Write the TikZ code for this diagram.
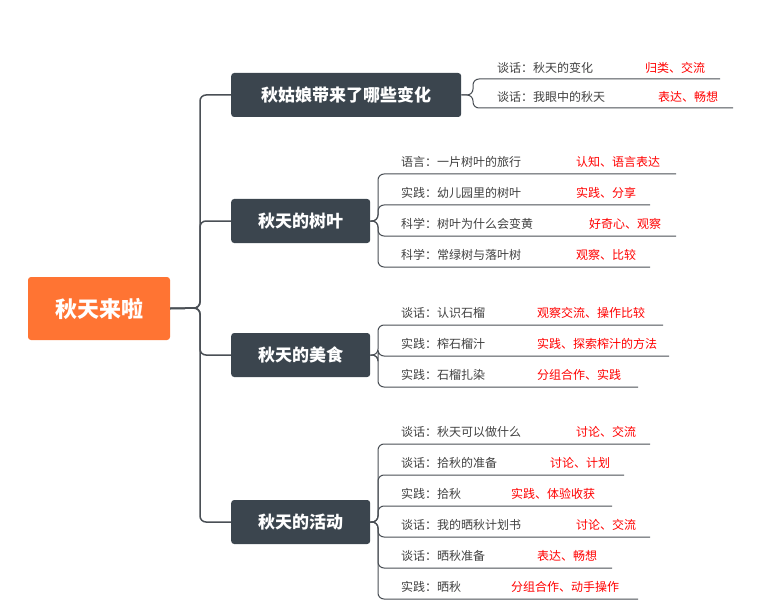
\documentclass[tikz,border=0pt]{standalone}
\usepackage{fontspec}
\setmainfont{Noto Sans CJK SC}
\definecolor{boxgray}{HTML}{3B454E}
\definecolor{rootorange}{HTML}{FF7433}
\definecolor{linegray}{HTML}{4A4F55}
\tikzset{
  topic/.style={fill=boxgray, rounded corners=3pt, text=white, font=\fontsize{17}{19}\selectfont\bfseries, minimum height=44pt, inner xsep=14pt, anchor=west},
  leaf/.style={anchor=west, text=black!75, font=\fontsize{12}{14}\selectfont, inner sep=0pt},
  goal/.style={anchor=west, text=red, font=\fontsize{12}{14}\selectfont, inner sep=0pt},
  link/.style={linegray, line width=1pt, rounded corners=6pt}
}
\begin{document}
\begin{tikzpicture}[x=1pt, y=-1pt]
  \useasboundingbox (0,0) rectangle (760,604);
  % main topic
  \node[fill=rootorange, rounded corners=3pt, text=white, font=\fontsize{22}{25}\selectfont\bfseries,
        minimum width=142pt, minimum height=63pt] (root) at (99,308.5) {秋天来啦};
  % sub topics
  \node[topic, minimum width=230pt] (b1) at (231,95) {秋姑娘带来了哪些变化};
  \node[topic, minimum width=139pt] (b2) at (231,221) {秋天的树叶};
  \node[topic, minimum width=139pt] (b3) at (231,355) {秋天的美食};
  \node[topic, minimum width=139pt] (b4) at (231,522) {秋天的活动};
  \foreach \b in {b1,b2,b3,b4}
    \draw[link, line width=1.5pt] (root.east) -- (200,308) |- (\b.west);
  % leaves of b1
  \foreach \y/\txt/\gx/\gtxt/\ex in {79/谈话：秋天的变化/645/归类、交流/720,
                                     108/谈话：我眼中的秋天/658/表达、畅想/733} {
    \node[leaf] (l) at (497,\y-11) {\txt};
    \node[goal] (g) at (\gx,\y-11) {\gtxt};
    \draw[link] (b1.east) -- (473,95) -- (473,\y) -- (\ex,\y);
  }
  % leaves of b2
  \foreach \y/\txt/\gx/\gtxt/\ex in {174/语言：一片树叶的旅行/576/认知、语言表达/676,
                                     205/实践：幼儿园里的树叶/576/实践、分享/650,
                                     236/科学：树叶为什么会变黄/589/好奇心、观察/676,
                                     267/科学：常绿树与落叶树/576/观察、比较/650} {
    \node[leaf] (l) at (401,\y-12) {\txt};
    \node[goal] (g) at (\gx,\y-12) {\gtxt};
    \draw[link] (b2.east) -- (378,221) -- (378,\y) -- (\ex,\y);
  }
  % leaves of b3
  \foreach \y/\txt/\gx/\gtxt/\ex in {325/谈话：认识石榴/537/观察交流、操作比较/663,
                                     356/实践：榨石榴汁/537/实践、探索榨汁的方法/669,
                                     387/实践：石榴扎染/537/分组合作、实践/638} {
    \node[leaf] (l) at (401,\y-12) {\txt};
    \node[goal] (g) at (\gx,\y-12) {\gtxt};
    \draw[link] (b3.east) -- (378,355) -- (378,\y) -- (\ex,\y);
  }
  % leaves of b4
  \foreach \y/\txt/\gx/\gtxt/\ex in {444/谈话：秋天可以做什么/576/讨论、交流/650,
                                     475/谈话：拾秋的准备/550/讨论、计划/624,
                                     506/实践：拾秋/511/实践、体验收获/612,
                                     537/谈话：我的晒秋计划书/576/讨论、交流/650,
                                     568/谈话：晒秋准备/537/表达、畅想/612,
                                     599/实践：晒秋/511/分组合作、动手操作/638} {
    \node[leaf] (l) at (401,\y-12) {\txt};
    \node[goal] (g) at (\gx,\y-12) {\gtxt};
    \draw[link] (b4.east) -- (378,522) -- (378,\y) -- (\ex,\y);
  }
\end{tikzpicture}
\end{document}
